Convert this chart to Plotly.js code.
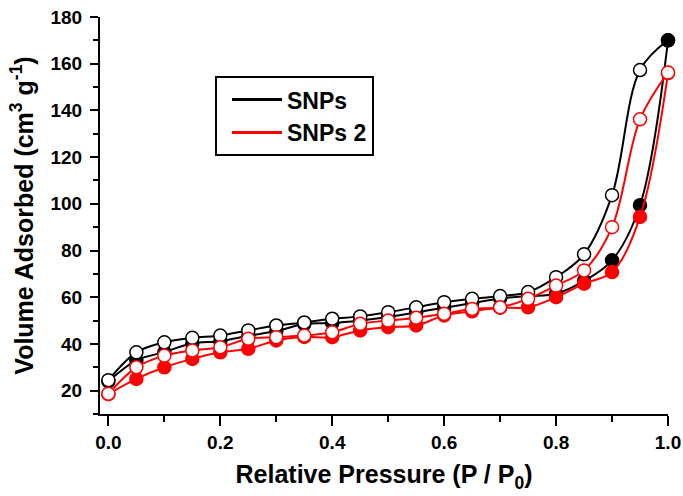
<!DOCTYPE html>
<html>
<head>
<meta charset="utf-8">
<script src="https://cdn.plot.ly/plotly-3.0.1.min.js"></script>
<style>html,body{margin:0;padding:0;background:#fff;}#chart{width:683px;height:496px;}</style>
</head>
<body>
<div id="chart"></div>
<script>
// Relative pressure P/P0
const pressure = [0, 0.05, 0.1, 0.15, 0.2, 0.25, 0.3, 0.35, 0.4, 0.45, 0.5, 0.55, 0.6, 0.65, 0.7, 0.75, 0.8, 0.85, 0.9, 0.95, 1.0];
// SNPs adsorption (filled) and desorption (open)
const snpsAds = [24, 33, 36.5, 40.3, 41.2, 43.5, 45.5, 48.5, 48.9, 50, 51.5, 53.5, 55.5, 57.5, 59.5, 60.5, 61.5, 67, 75.8, 99.4, 170];
const snpsDes = [24.5, 36.4, 40.7, 42.6, 43.6, 45.8, 47.9, 49.2, 50.8, 51.8, 53.6, 55.7, 57.9, 59.3, 60.5, 62.2, 68.6, 78.4, 103.7, 157.3, 170];
// SNPs 2 adsorption (filled) and desorption (open)
const snps2Ads = [18.5, 25, 30, 33.6, 36.4, 37.9, 41.5, 43, 42.9, 45.8, 47.2, 47.9, 52.2, 54, 55.5, 55.7, 60, 65.8, 70.8, 94.4, 156];
const snps2Des = [18.7, 30, 35, 37.2, 38.6, 42.2, 42.9, 43.6, 45, 48.6, 50, 51.2, 52.9, 55, 55.7, 59.3, 65, 71.5, 90, 136.2, 156.2];
const seriesNames = ['SNPs', 'SNPs 2'];

const FONT = 'Liberation Sans, Arial, sans-serif';
const last = pressure.length - 1;

function filled(y, color) {
  return {x: pressure, y: y, type: 'scatter', mode: 'lines+markers', showlegend: false,
    cliponaxis: false,
    line: {color: color, width: 2, shape: 'spline', smoothing: 1},
    marker: {symbol: 'circle', size: 13, color: color, line: {color: color, width: 1.5}}};
}
function open(y, color, topFilled) {
  const fills = pressure.map((v, i) => (topFilled && i === last) ? color : 'white');
  return {x: pressure, y: y, type: 'scatter', mode: 'lines+markers', showlegend: false,
    cliponaxis: false,
    line: {color: color, width: 2, shape: 'spline', smoothing: 1},
    marker: {symbol: 'circle', size: 13, color: fills, line: {color: color, width: 1.5}}};
}
function legendEntry(name, color) {
  return {x: [null], y: [null], type: 'scatter', mode: 'lines', name: name,
    legendgroup: name, line: {color: color, width: 3}};
}

const data = [
  filled(snpsAds, 'black'),
  open(snpsDes, 'black', true),
  filled(snps2Ads, '#ff0000'),
  open(snps2Des, '#ff0000', false),
  legendEntry(seriesNames[0], 'black'),
  legendEntry(seriesNames[1], '#ff0000')
];

const layout = {
  width: 683, height: 496,
  margin: {l: 100, r: 15, t: 17, b: 82},
  paper_bgcolor: 'white', plot_bgcolor: 'white',
  font: {family: FONT, color: 'black'},
  showlegend: true,
  legend: {x: 0.2025, y: 0.851, xanchor: 'left', yanchor: 'top',
    bordercolor: 'black', borderwidth: 2, bgcolor: 'white',
    font: {family: FONT, size: 23, weight: 'bold', color: 'black'},
    traceorder: 'grouped', tracegroupgap: 0, itemwidth: 50, indentation: 10},
  xaxis: {
    range: [-0.015, 1.0], showgrid: false, zeroline: false,
    showline: true, linecolor: 'black', linewidth: 2,
    ticks: 'outside', ticklen: 10, tickwidth: 2, tickcolor: 'black',
    tick0: 0, dtick: 0.2, tickformat: '.1f',
    tickfont: {family: FONT, size: 19, weight: 'bold', color: 'black'},
    minor: {dtick: 0.1, tick0: 0, ticks: 'outside', ticklen: 6, tickwidth: 2, tickcolor: 'black', showgrid: false},
    title: {text: 'Relative Pressure (P / P<sub>0</sub>)', standoff: 14,
      font: {family: FONT, size: 25, weight: 'bold', color: 'black'}}
  },
  yaxis: {
    range: [10, 180], showgrid: false, zeroline: false,
    showline: true, linecolor: 'black', linewidth: 2,
    ticks: 'outside', ticklen: 8, tickwidth: 2, tickcolor: 'black',
    tick0: 0, dtick: 20, ticklabelstandoff: 4,
    tickfont: {family: FONT, size: 19, weight: 'bold', color: 'black'},
    minor: {dtick: 10, tick0: 0, ticks: 'outside', ticklen: 5, tickwidth: 2, tickcolor: 'black', showgrid: false},
    title: {text: 'Volume Adsorbed (cm<sup>3</sup> g<sup>-1</sup>)', standoff: 10,
      font: {family: FONT, size: 25, weight: 'bold', color: 'black'}}
  }
};

Plotly.newPlot('chart', data, layout, {displayModeBar: false, staticPlot: true});
</script>
</body>
</html>
